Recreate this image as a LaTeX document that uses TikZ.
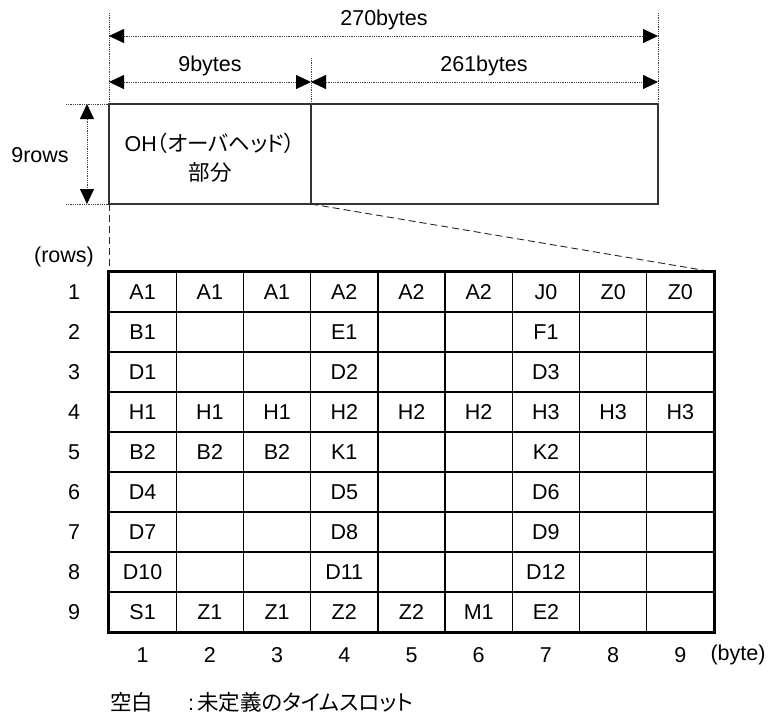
\documentclass[tikz,border=0pt]{standalone}
\usepackage{fontspec}
\setmainfont{Liberation Sans}
\newfontfamily\jp[RawFeature=+palt]{Noto Sans CJK JP}
\usetikzlibrary{arrows.meta}
\begin{document}
\begin{tikzpicture}[x=1pt,y=-1pt,
  font=\fontsize{21.5}{26}\selectfont,
  tip/.tip={Triangle[length=15pt,width=14pt,color=black]},
  dim/.style={densely dotted, line width=0.8pt, draw=black!75},
  dimarrow/.style={dim, tip-tip},
  frame/.style={draw=black!80, line width=1.4pt},
  cell/.style={draw=black, line width=1.3pt, minimum width=67.22pt, minimum height=40pt, inner sep=0pt},
  lbl/.style={inner sep=0pt},
  zoomline/.style={dashed, dash pattern=on 7pt off 4pt, line width=0.9pt, draw=black!85}]
\useasboundingbox (0,0) rectangle (768,716);

% top frame
\coordinate (fTL) at (109,104);
\coordinate (fTM) at (311,104);
\coordinate (fTR) at (658,104);
\coordinate (fBL) at (109,204);
\coordinate (fBM) at (311,204);
\coordinate (fBR) at (658,204);
\draw[frame] (fTL) rectangle (fBR);
\draw[frame] (fTM) -- (fBM);
\node[lbl, align=center] (oh) at (210,158) {OH{\jp （オーバヘッド）}\\[3pt]{\jp 部分}};

% extension lines
\coordinate (e1) at (109,13);
\coordinate (e2) at (311,58);
\coordinate (e3) at (658,13);
\coordinate (h1) at (66,104);
\coordinate (h2) at (66,204);
\draw[dim] (e1) -- (fTL);
\draw[dim] (e2) -- (fTM);
\draw[dim] (e3) -- (fTR);
\draw[dim] (h1) -- (fTL);
\draw[dim] (h2) -- (fBL);

% dimension arrows
\coordinate (a270l) at (109,36);
\coordinate (a270r) at (658,36);
\coordinate (a9l) at (109,82);
\coordinate (a9r) at (311,82);
\coordinate (a261r) at (658,82);
\coordinate (arT) at (87,104);
\coordinate (arB) at (87,204);
\draw[dimarrow] (a270l) -- (a270r);
\draw[dimarrow] (a9l) -- (a9r);
\draw[dimarrow] (a9r) -- (a261r);
\draw[dimarrow] (arT) -- (arB);
\node[lbl] (t270) at (384,20) {270bytes};
\node[lbl] (t9) at (210,66) {9bytes};
\node[lbl] (t261) at (484,66) {261bytes};
\node[lbl] (t9r) at (40,155) {9rows};

% grid
\coordinate (gTL) at (109,272);
\coordinate (gTR) at (714,272);
\draw[zoomline] (fBL) -- (gTL);
\draw[zoomline] (fBM) -- (gTR);

\foreach \row [count=\r] in {
  {A1,A1,A1,A2,A2,A2,J0,Z0,Z0},
  {B1,{},{},E1,{},{},F1,{},{}},
  {D1,{},{},D2,{},{},D3,{},{}},
  {H1,H1,H1,H2,H2,H2,H3,H3,H3},
  {B2,B2,B2,K1,{},{},K2,{},{}},
  {D4,{},{},D5,{},{},D6,{},{}},
  {D7,{},{},D8,{},{},D9,{},{}},
  {D10,{},{},D11,{},{},D12,{},{}},
  {S1,Z1,Z1,Z2,Z2,M1,E2,{},{}}} {
  \foreach \t [count=\c] in \row {
    \node[cell] (cell-\r-\c) at ({109+(\c-0.5)*67.22},{272+(\r-0.5)*40}) {\t};
  }
  \node[lbl] (row-\r) at (74,{272+(\r-0.5)*40}) {\r};
}
\foreach \c in {1,...,9} {
  \node[lbl] (col-\c) at ({109+(\c-0.5)*67.22},655) {\c};
}
\draw[draw=black, line width=1.8pt] (cell-1-1.north west) rectangle (cell-9-9.south east);

\node[lbl] (rowsl) at (64,257) {(rows)};
\node[lbl] (bytel) at (738,655) {(byte)};

\node[lbl, anchor=west] (foot) at (110,702) {{\jp 空白}\hspace{35pt}:{\jp\hspace{3pt}未定義のタイムスロット}};
\end{tikzpicture}
\end{document}
